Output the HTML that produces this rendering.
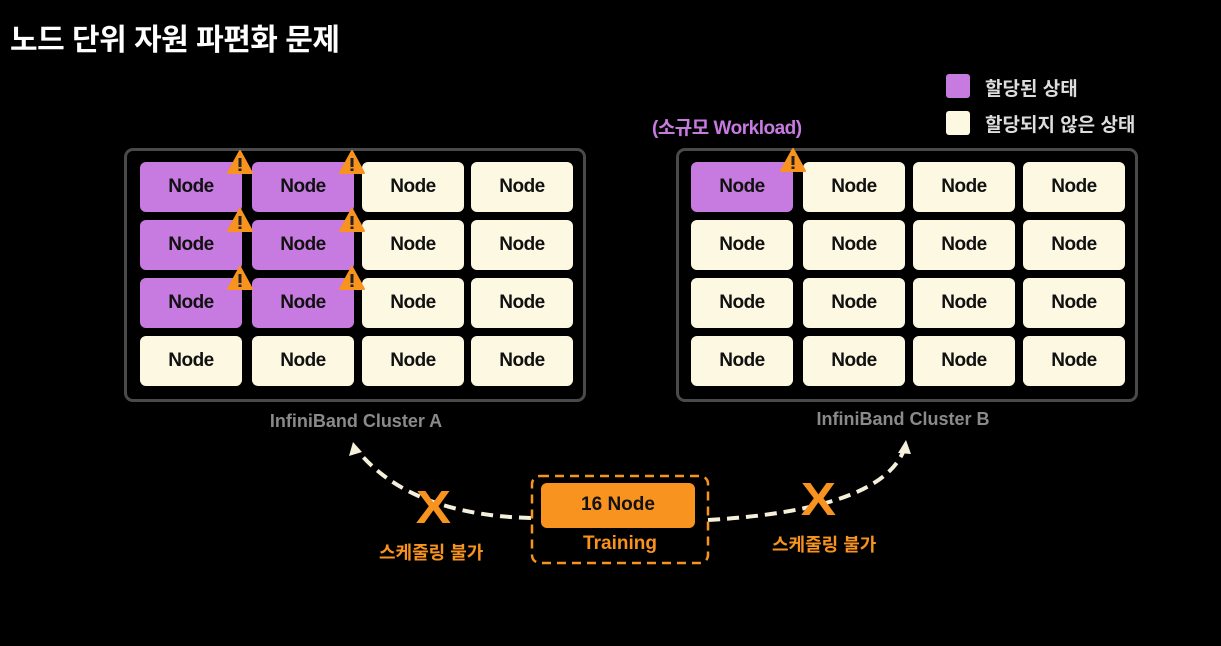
<!DOCTYPE html>
<html><head><meta charset="utf-8"><style>
body{margin:0;width:1221px;height:646px;background:#000;overflow:hidden;position:relative;font-family:"Liberation Sans","Noto Sans CJK KR",sans-serif}
.a{position:absolute}
.n{position:absolute;width:102px;height:50px;border-radius:6px;display:flex;align-items:center;justify-content:center;font-size:19px;color:#111;font-weight:bold;letter-spacing:-0.5px}
.p{background:#c77ae0}.c{background:#fdf8e1}
.cl{position:absolute;border:3px solid #4a4a4a;border-radius:9px;width:456px;height:248px;top:148px}
.t{font-weight:bold}
</style></head><body>
<div class="a t" style="left:10px;top:15px;font-size:30px;color:#fff;letter-spacing:-0.5px">노드 단위 자원 파편화 문제</div>
<div class="a" style="left:946px;top:74px;width:24px;height:24px;background:#c77ae0;border-radius:3px"></div>
<div class="a t" style="left:985px;top:74px;font-size:19px;color:#ddd">할당된 상태</div>
<div class="a" style="left:946px;top:111px;width:24px;height:24px;background:#fdf8e1;border-radius:3px"></div>
<div class="a t" style="left:985px;top:110px;font-size:19px;color:#ddd">할당되지 않은 상태</div>
<div class="a t" style="left:652px;top:113px;font-size:19px;color:#c77ae0;letter-spacing:-0.5px">(소규모 Workload)</div>
<div class="cl" style="left:124px"></div>
<div class="cl" style="left:676px"></div>
<div id="g"></div>
<div class="a t" style="left:226px;top:411px;width:260px;text-align:center;font-size:18px;color:#8a8a8a">InfiniBand Cluster A</div>
<div class="a t" style="left:773px;top:409px;width:260px;text-align:center;font-size:18px;color:#8a8a8a">InfiniBand Cluster B</div>
<svg class="a" style="left:0;top:0" width="1221" height="646">
<path d="M531,518 Q410,515 357,450" fill="none" stroke="#f5f0dc" stroke-width="4" stroke-dasharray="12,7"/>
<polygon points="353,442 349,456 362,452" fill="#f5f0dc"/>
<path d="M708,520 Q880,510 904,450" fill="none" stroke="#f5f0dc" stroke-width="4" stroke-dasharray="12,7"/>
<polygon points="906,440 898,453 911,454" fill="#f5f0dc"/>
<rect x="532" y="476" width="176" height="87" rx="8" fill="none" stroke="#f7931e" stroke-width="2.5" stroke-dasharray="9,6"/>
<rect x="541" y="483" width="154" height="45" rx="6" fill="#f7931e"/>
</svg>
<div class="a t" style="left:541px;top:494px;width:154px;text-align:center;font-size:19px;color:#111">16 Node</div>
<div class="a t" style="left:532px;top:533px;width:176px;text-align:center;font-size:19px;color:#f7931e">Training</div>
<div class="a t" style="left:418px;top:480px;font-size:46px;color:#f7931e;transform:scaleX(1.15)">X</div>
<div class="a t" style="left:803px;top:472px;font-size:46px;color:#f7931e;transform:scaleX(1.15)">X</div>
<div class="a t" style="left:379px;top:539px;font-size:18px;color:#f7931e">스케줄링 불가</div>
<div class="a t" style="left:772px;top:531px;font-size:18px;color:#f7931e">스케줄링 불가</div>
<script>
var g=document.getElementById('g'),h='';
var cx=[[140,252,362,471],[691,803,913,1023]],ry=[162,220,278,336];
for(var k=0;k<2;k++)for(var r=0;r<4;r++)for(var c=0;c<4;c++){
var p=(k==0&&c<2&&r<3)||(k==1&&r==0&&c==0);
h+='<div class="n '+(p?'p':'c')+'" style="left:'+cx[k][c]+'px;top:'+ry[r]+'px">Node</div>';}
function w(x,y){return '<svg class="a" style="left:'+(x-14)+'px;top:'+(y-13)+'px" width="28" height="26"><path d="M14,2 L26,24 L2,24 Z" fill="#f7931e" stroke="#f7931e" stroke-width="2" stroke-linejoin="round"/><rect x="12.5" y="9" width="3" height="9" fill="#222"/><rect x="12.5" y="19.5" width="3" height="2.5" fill="#222"/></svg>';}
[[240,162],[352,162],[240,220],[352,220],[240,278],[352,278],[793,160]].forEach(function(q){h+=w(q[0],q[1]);});
g.innerHTML=h;
</script>
</body></html>
